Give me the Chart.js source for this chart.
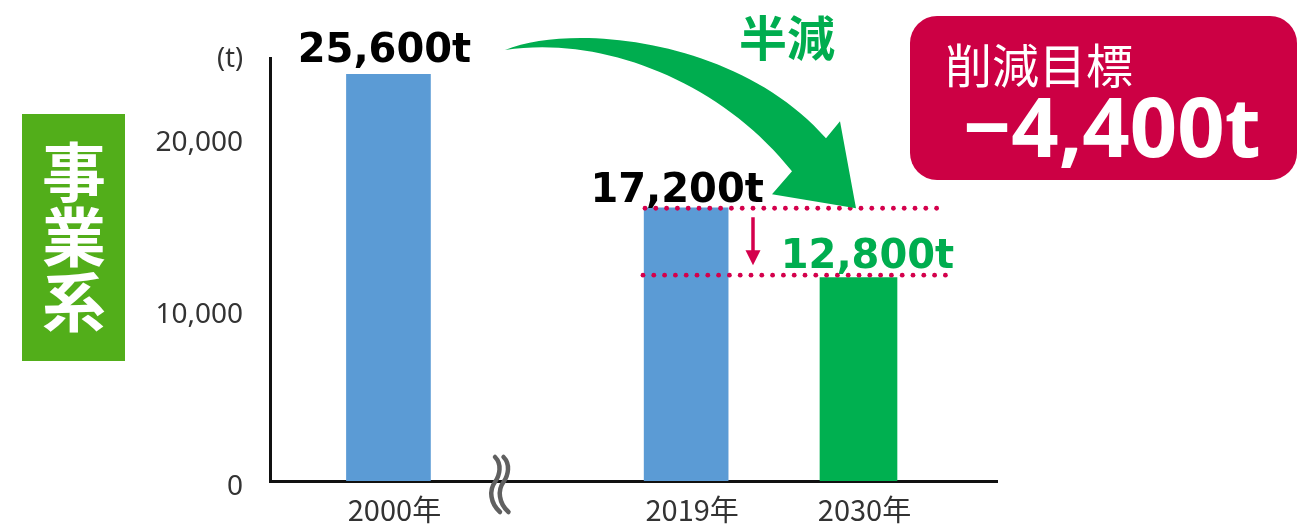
<!DOCTYPE html>
<html>
<head>
<meta charset="utf-8">
<script src="https://cdn.jsdelivr.net/npm/chart.js@4"></script>
<style>
html,body{margin:0;padding:0;background:#fff;}
canvas{display:block;}
</style>
</head>
<body>
<canvas id="c" width="1307" height="529"></canvas>
<script>
// ---- data ----
const years = [2000, 2019, 2030];
const emissions = [25600, 17200, 12800];
const seriesKind = ['actual', 'actual', 'target'];
const yTickValues = [0, 10000, 20000];
const unitLabel = '(t)';
const sideTitle = ['事', '業', '系'];
const goalTitle = '削減目標';
const halfText = '半減';

const actualData = years.map((x, i) => ({x, y: emissions[i]})).filter((_, i) => seriesKind[i] === 'actual');
const targetData = years.map((x, i) => ({x, y: emissions[i]})).filter((_, i) => seriesKind[i] === 'target');
const reduction = emissions[1] - emissions[2];
const fmt = v => v.toLocaleString('en-US');

const annot = {
  id: 'annot',
  afterDraw(chart) {
    const ctx = chart.ctx;
    const x = chart.scales.x, y = chart.scales.y;
    const px = years.map(v => x.getPixelForValue(v));
    const py = emissions.map(v => y.getPixelForValue(v));
    ctx.save();

    // side title box
    ctx.fillStyle = '#52ae1a';
    ctx.fillRect(22, 114, 103, 247);
    ctx.fillStyle = '#ffffff';
    ctx.font = 'bold 64px "Noto Sans CJK JP"';
    ctx.textAlign = 'center';
    ctx.textBaseline = 'middle';
    sideTitle.forEach((ch, i) => ctx.fillText(ch, 74, 172 + i * 65));

    // unit label
    ctx.fillStyle = '#333';
    ctx.font = '27px "Noto Sans"';
    ctx.textAlign = 'right';
    ctx.fillText(unitLabel, 243, 59);

    // break mark on x axis
    ctx.strokeStyle = '#606060';
    ctx.lineWidth = 4.5;
    ctx.lineCap = 'round';
    [0, 8.5].forEach(o => {
      ctx.beginPath();
      ctx.moveTo(495 + o, 457);
      ctx.bezierCurveTo(502 + o, 464, 500 + o, 475, 495 + o, 482);
      ctx.bezierCurveTo(489 + o, 490, 490 + o, 503, 500 + o, 512);
      ctx.stroke();
    });

    // dotted guide lines
    const yUp = py[1] + 0.5, yLow = py[2] - 2.5;
    ctx.fillStyle = '#d4004c';
    const dots = (x0, x1, yy) => {
      for (let xx = x0; xx <= x1; xx += 10.8) {
        ctx.beginPath(); ctx.arc(xx, yy, 2.4, 0, Math.PI * 2); ctx.fill();
      }
    };
    dots(645, 943, yUp);
    dots(643, 953, yLow);

    // down arrow
    const ax = 753;
    ctx.strokeStyle = '#d4004c';
    ctx.lineWidth = 3.5;
    ctx.lineCap = 'butt';
    ctx.beginPath(); ctx.moveTo(ax, yUp + 9); ctx.lineTo(ax, yLow - 22); ctx.stroke();
    ctx.beginPath();
    ctx.moveTo(ax - 7.5, yLow - 25); ctx.lineTo(ax + 7.5, yLow - 25); ctx.lineTo(ax, yLow - 10);
    ctx.closePath(); ctx.fill();

    // big green curved arrow
    const dy = yUp - 197;
    ctx.fillStyle = '#00ad4f';
    ctx.beginPath();
    ctx.moveTo(505, 50);
    ctx.bezierCurveTo(575, 22, 740, 40, 826, 127 + dy);
    ctx.lineTo(840, 110 + dy);
    ctx.lineTo(856, 197 + dy);
    ctx.lineTo(772, 183 + dy);
    ctx.lineTo(792, 160 + dy);
    ctx.bezierCurveTo(720, 80, 600, 35, 505, 50);
    ctx.closePath();
    ctx.fill();

    // 半減
    ctx.font = 'bold 48px "Noto Sans CJK JP"';
    ctx.textAlign = 'center';
    ctx.textBaseline = 'middle';
    ctx.fillText(halfText, 787, 38);

    // value labels
    ctx.font = 'bold 40px "DejaVu Sans"';
    ctx.textBaseline = 'alphabetic';
    ctx.fillStyle = '#000';
    ctx.fillText(fmt(emissions[0]) + 't', px[0] - 4, py[0] - 12);
    ctx.fillText(fmt(emissions[1]) + 't', px[1] - 9, py[1] - 6);
    ctx.fillStyle = '#00ad4f';
    ctx.fillText(fmt(emissions[2]) + 't', px[2] + 9, py[2] - 10);

    // goal box
    ctx.fillStyle = '#cc0044';
    ctx.beginPath();
    ctx.roundRect(910, 16, 387, 164, 27);
    ctx.fill();
    ctx.fillStyle = '#fff';
    ctx.textAlign = 'left';
    ctx.textBaseline = 'middle';
    ctx.font = '47px "Noto Sans CJK JP"';
    ctx.fillText(goalTitle, 945, 65);
    ctx.textBaseline = 'alphabetic';
    ctx.font = 'bold 83px "Noto Sans"';
    ctx.fillText('\u2212' + fmt(reduction) + 't', 963, 157);

    ctx.restore();
  }
};

new Chart(document.getElementById('c'), {
  type: 'bar',
  data: {
    datasets: [
      {label: '実績', data: actualData, backgroundColor: '#5b9bd5', barThickness: 84, grouped: false, xAxisID: 'x', yAxisID: 'y'},
      {label: '目標', data: targetData, backgroundColor: '#00b050', barThickness: 77, grouped: false, xAxisID: 'x', yAxisID: 'y'}
    ]
  },
  options: {
    responsive: false,
    animation: false,
    layout: {padding: {top: 58, right: 310, left: 0, bottom: 0}},
    plugins: {legend: {display: false}, tooltip: {enabled: false}},
    scales: {
      x: {
        type: 'linear', min: 1992.44, max: 2038.84, offset: false,
        grid: {display: false, offset: false},
        border: {color: '#111', width: 3},
        afterBuildTicks: s => { s.ticks = years.map(v => ({value: v})); },
        ticks: {
          callback: v => v + '年',
          font: {family: 'Noto Sans CJK JP', size: 29},
          color: '#333', padding: 4, labelOffset: 6, maxRotation: 0, autoSkip: false
        },
        afterFit: s => { s.height = 48; }
      },
      y: {display: false, min: 0, max: 26626},
      yLab: {
        type: 'linear', position: 'left', min: 349, max: 24942,
        grid: {display: false},
        border: {color: '#111', width: 3},
        afterBuildTicks: s => { s.ticks = yTickValues.map(v => ({value: v})); },
        ticks: {
          callback: v => fmt(v),
          font: {family: 'Noto Sans', size: 28},
          color: '#333', padding: 19
        },
        afterFit: s => { s.width = 270; }
      }
    }
  },
  plugins: [annot]
});
</script>
</body>
</html>
